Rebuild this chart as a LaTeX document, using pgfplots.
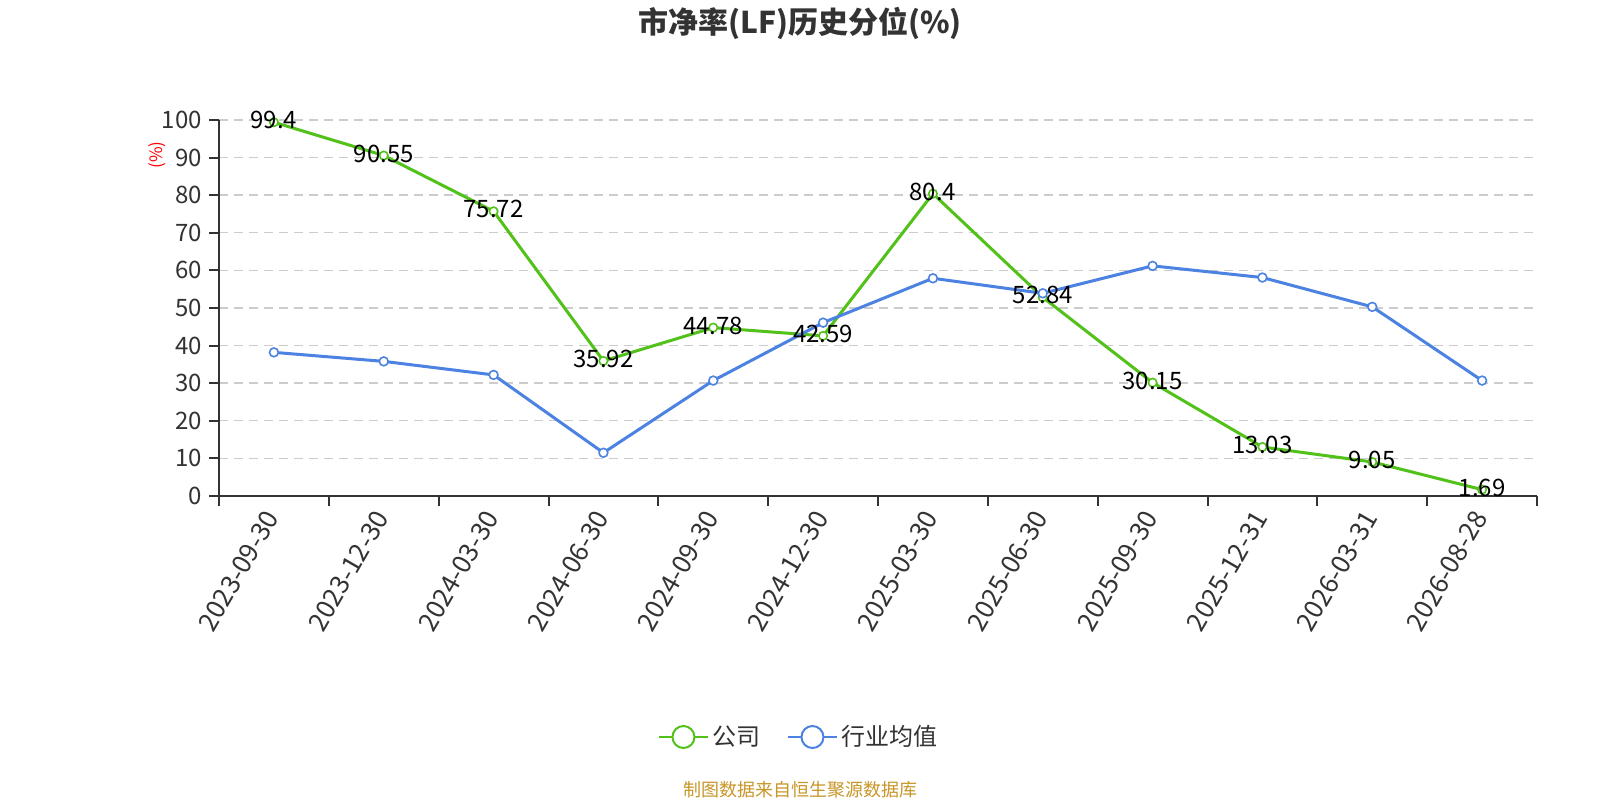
\documentclass[border=0pt]{standalone}
\usepackage{fontspec}
\setmainfont{Noto Sans CJK SC}
\usepackage{pgfplots}
\pgfplotsset{compat=1.18}
\usepackage{pgfplotstable}
\definecolor{cgreen}{RGB}{82,194,26}
\definecolor{cblue}{RGB}{76,130,226}
\definecolor{axisgray}{RGB}{51,51,51}
\definecolor{gridgray}{RGB}{204,204,204}
\definecolor{srcgold}{RGB}{200,150,40}

\pgfplotstableread{
x company label industry
0 99.4 99.4 38.2
1 90.55 90.55 35.8
2 75.72 75.72 32.2
3 35.92 35.92 11.5
4 44.78 44.78 30.7
5 42.59 42.59 46.1
6 80.4 80.4 57.9
7 52.84 52.84 53.9
8 30.15 30.15 61.2
9 13.03 13.03 58.1
10 9.05 9.05 50.3
11 1.69 1.69 30.7
}\data

\begin{document}
\begin{tikzpicture}
\path[fill=white] (0,0) rectangle (800pt,400pt);
\begin{axis}[
  at={(109.5pt,152pt)}, anchor=south west,
  scale only axis, width=659pt, height=188pt,
  xmin=-0.5, xmax=11.5, ymin=0, ymax=100,
  axis lines*=left,
  axis line style={-, draw=axisgray, line width=1pt},
  xtick={0,...,11},
  xticklabels={2023-09-30,2023-12-30,2024-03-30,2024-06-30,2024-09-30,2024-12-30,2025-03-30,2025-06-30,2025-09-30,2025-12-31,2026-03-31,2026-08-28},
  minor xtick={-0.5,0.5,...,11.5},
  major x tick style={draw=none},
  minor x tick style={draw=axisgray, line width=1pt},
  ytick={0,10,...,100},
  major y tick style={draw=axisgray, line width=1pt},
  tick align=outside,
  major tick length=5pt, minor tick length=5pt,
  ymajorgrids,
  grid style={dash pattern=on 4.5pt off 3pt, draw=gridgray, line width=0.7pt},
  tick label style={font=\fontsize{12}{14}\selectfont, text=axisgray},
  /pgf/number format/assume math mode=true,
  xticklabel style={rotate=60, anchor=east, font=\fontsize{13}{15}\selectfont, yshift=-1pt},
  clip=false,
  legend style={at={(0.4408,-0.641)}, anchor=center, draw=none, fill=none,
    legend columns=2, font=\fontsize{12}{14}\selectfont, text=axisgray,
    /tikz/every even column/.append style={column sep=11pt}},
  legend image code/.code={
    \draw[#1, mark=none, line width=1pt] (0pt,0pt) -- (24.5pt,0pt);
    \draw[#1, mark=none, line width=1pt, fill=white] (12.25pt,0pt) circle (5.5pt);
  },
]
\addplot[cgreen, line width=1.5pt, mark=*, mark size=2.1pt,
  mark options={fill=white, line width=0.8pt},
  nodes near coords, point meta=explicit symbolic,
  every node near coord/.append style={anchor=center, yshift=1pt, text=black, font=\fontsize{12}{14}\selectfont}]
  table[x=x, y=company, meta=label] {\data};
\addlegendentry{公司}
\addplot[cblue, line width=1.5pt, mark=*, mark size=2.2pt,
  mark options={fill=white, line width=0.8pt}]
  table[x=x, y=industry] {\data};
\addlegendentry{行业均值}
\end{axis}
\node[font=\fontsize{15}{18}\selectfont\bfseries, text=axisgray] at (400pt,388.5pt) {市净率(LF)历史分位(\%)};
\node[rotate=90, text=red, font=\fontsize{8.5}{10}\selectfont] at (78.5pt,322.5pt) {(\%)};
\node[font=\fontsize{9}{11}\selectfont, text=srcgold] at (400pt,5pt) {制图数据来自恒生聚源数据库};
\end{tikzpicture}
\end{document}
